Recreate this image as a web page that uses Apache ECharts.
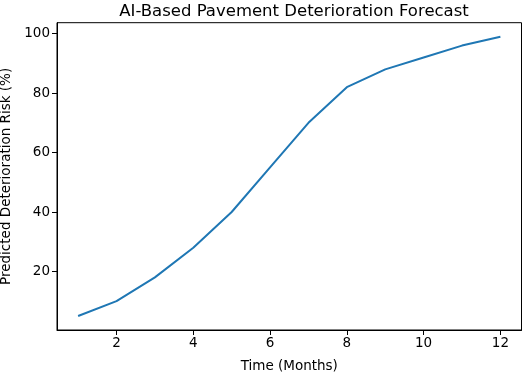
<!DOCTYPE html>
<html><head><meta charset="utf-8">
<script src="https://cdn.jsdelivr.net/npm/echarts@6/dist/echarts.min.js"></script>
<style>html,body{margin:0;padding:0;background:#fff}#c{width:523px;height:373px}</style>
</head><body><div id="c"></div>
<script>
const months = [1,2,3,4,5,6,7,8,9,10,11,12];
const risk = [5,10,18,28,40,55,70,82,88,92,96,99];
const xTicks = [2,4,6,8,10,12];
const yTicks = [20,40,60,80,100];

const chart = echarts.init(document.getElementById('c'), null, {renderer:'canvas'});
const font = 'DejaVu Sans';
chart.setOption({
  animation:false,
  backgroundColor:'#fff',
  title:{text:'AI-Based Pavement Deterioration Forecast', left:289, top:-2, textAlign:'center',
    textStyle:{fontFamily:font, fontSize:16.5, fontWeight:'normal', color:'#000'}},
  grid:{left:57, right:1.5, top:22.7, bottom:43, containLabel:false, outerBoundsMode:'none',
    show:true, borderColor:'#000', borderWidth:1, backgroundColor:'transparent'},
  xAxis:{type:'value', min:0.45, max:12.55,
    name:'Time (Months)', nameLocation:'middle', nameGap:29,
    nameTextStyle:{fontFamily:font, fontSize:13.5, color:'#000'},
    axisLine:{show:true, lineStyle:{color:'#000', width:1}},
    axisTick:{show:true, length:5, lineStyle:{color:'#000'}, customValues:xTicks},
    axisLabel:{fontFamily:font, fontSize:13.5, color:'#000', margin:6, customValues:xTicks},
    splitLine:{show:false}},
  yAxis:{type:'value', min:0.3, max:103.7,
    name:'Predicted Deterioration Risk (%)', nameLocation:'middle', nameGap:42,
    nameTextStyle:{fontFamily:font, fontSize:13.5, color:'#000'},
    axisLine:{show:true, lineStyle:{color:'#000', width:1}},
    axisTick:{show:true, length:5, lineStyle:{color:'#000'}, customValues:yTicks},
    axisLabel:{fontFamily:font, fontSize:13.5, color:'#000', margin:7, customValues:yTicks},
    splitLine:{show:false}},
  series:[{type:'line', data:months.map((m,i)=>[m,risk[i]]), showSymbol:false, symbol:'none',
    lineStyle:{color:'#1f77b4', width:2}}]
});
</script></body></html>
